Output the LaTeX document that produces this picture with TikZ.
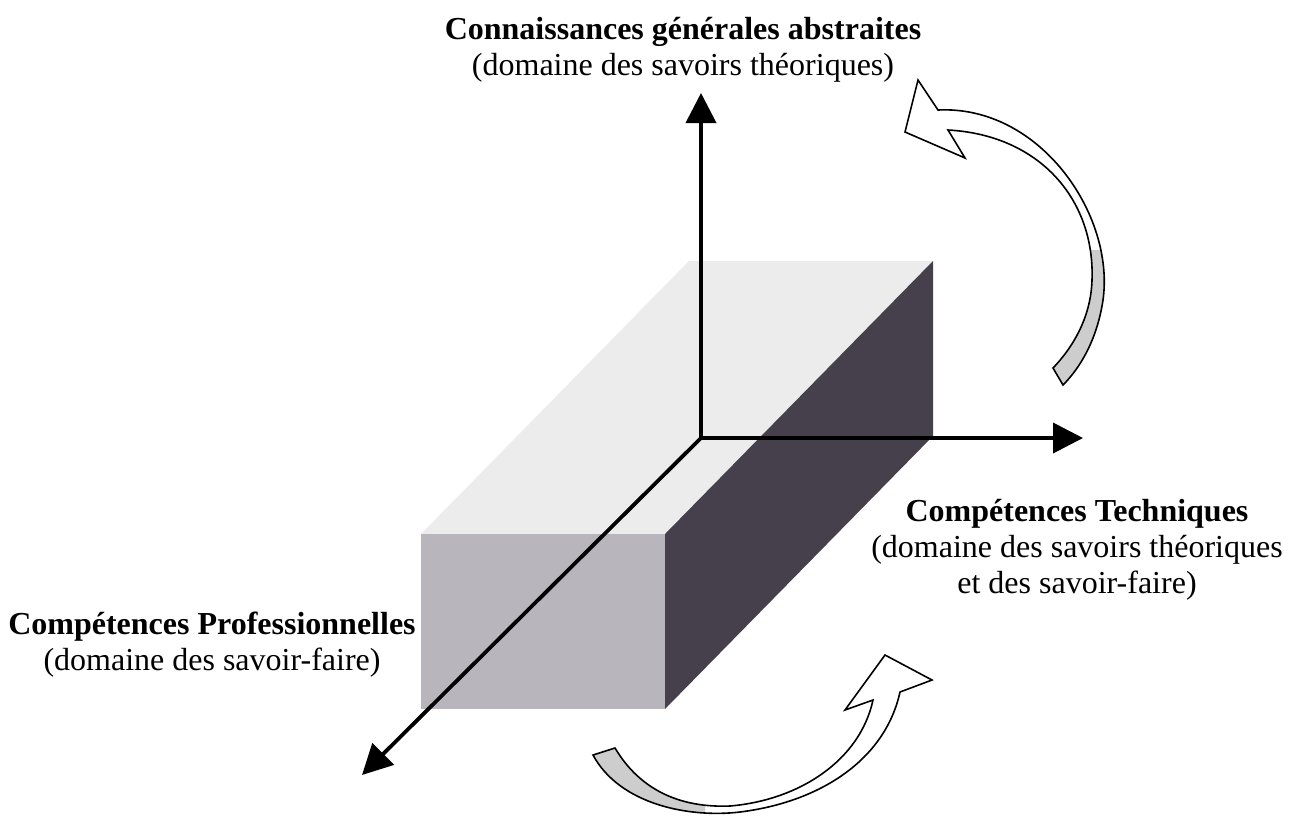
\documentclass[tikz,border=0pt]{standalone}
\usepackage{fontspec}
\setmainfont{Liberation Serif}
\usetikzlibrary{arrows.meta}
\definecolor{topc}{RGB}{236,236,236}
\definecolor{frontc}{RGB}{184,182,188}
\definecolor{darkc}{RGB}{70,64,76}
\definecolor{ribbonc}{RGB}{205,205,205}
\def\ribA{(1053,368) .. controls (1075,345) and (1091,315) .. (1092,280) .. controls (1095,200) and (1040,135) .. (948,130) -- (965,158) -- (905,132) -- (918,80) -- (938,110) .. controls (1040,105) and (1115,215) .. (1103,300) .. controls (1097,340) and (1080,368) .. (1063,385) -- cycle}
\def\ribB{(615,748) .. controls (640,790) and (680,808) .. (730,806) .. controls (800,800) and (860,760) .. (873,700) -- (845,710) -- (885,655) -- (932,680) -- (900,692) .. controls (885,760) and (820,802) .. (740,812) .. controls (690,818) and (620,805) .. (593,755) -- cycle}
\begin{document}
\begin{tikzpicture}[x=1pt,y=-1pt,
  axis/.style={line width=3.8pt,-{Triangle[length=30pt,width=30pt]}},
  ribbonline/.style={draw=black,line width=1.6pt,line join=miter},
  lbl/.style={font=\fontsize{32}{36}\selectfont,align=center,inner sep=0pt}]
\useasboundingbox (0,0) rectangle (1295,815);
\fill[white] (0,0) rectangle (1295,815);
% box
\coordinate (FTL) at (421,534);
\coordinate (FTR) at (665,534);
\coordinate (FBR) at (665,709);
\coordinate (FBL) at (421,709);
\coordinate (BTL) at (689,261);
\coordinate (BTR) at (933,261);
\coordinate (BBR) at (933,436);
\fill[topc] (FTL) -- (FTR) -- (BTR) -- (BTL) -- cycle;
\fill[frontc] (FTL) rectangle (FBR);
\fill[darkc] (FTR) -- (BTR) -- (BBR) -- (FBR) -- cycle;
% axes
\coordinate (O) at (701,438);
\coordinate (Up) at (701,93);
\coordinate (Rt) at (1083,438);
\coordinate (Dn) at (362,775);
\draw[axis] (O) -- (Up);
\draw[axis] (O) -- (Rt);
\draw[axis] (O) -- (Dn);
% curved arrows
\fill[white] \ribA;
\begin{scope}
  \clip (1030,250) rectangle (1130,400);
  \fill[ribbonc] \ribA;
\end{scope}
\draw[ribbonline] \ribA;
\fill[white] \ribB;
\begin{scope}
  \clip (580,740) rectangle (705,820);
  \fill[ribbonc] \ribB;
\end{scope}
\draw[ribbonline] \ribB;
% labels (base anchor = baseline of the last line)
\node[lbl,anchor=base] (tA) at (683,75) {\textbf{Connaissances générales abstraites}\\(domaine des savoirs théoriques)};
\node[lbl,anchor=base] (tT) at (1077,593) {\textbf{Compétences Techniques}\\(domaine des savoirs théoriques\\et des savoir-faire)};
\node[lbl,anchor=base] (tP) at (212,670) {\textbf{Compétences Professionnelles}\\(domaine des savoir-faire)};
\end{tikzpicture}
\end{document}
